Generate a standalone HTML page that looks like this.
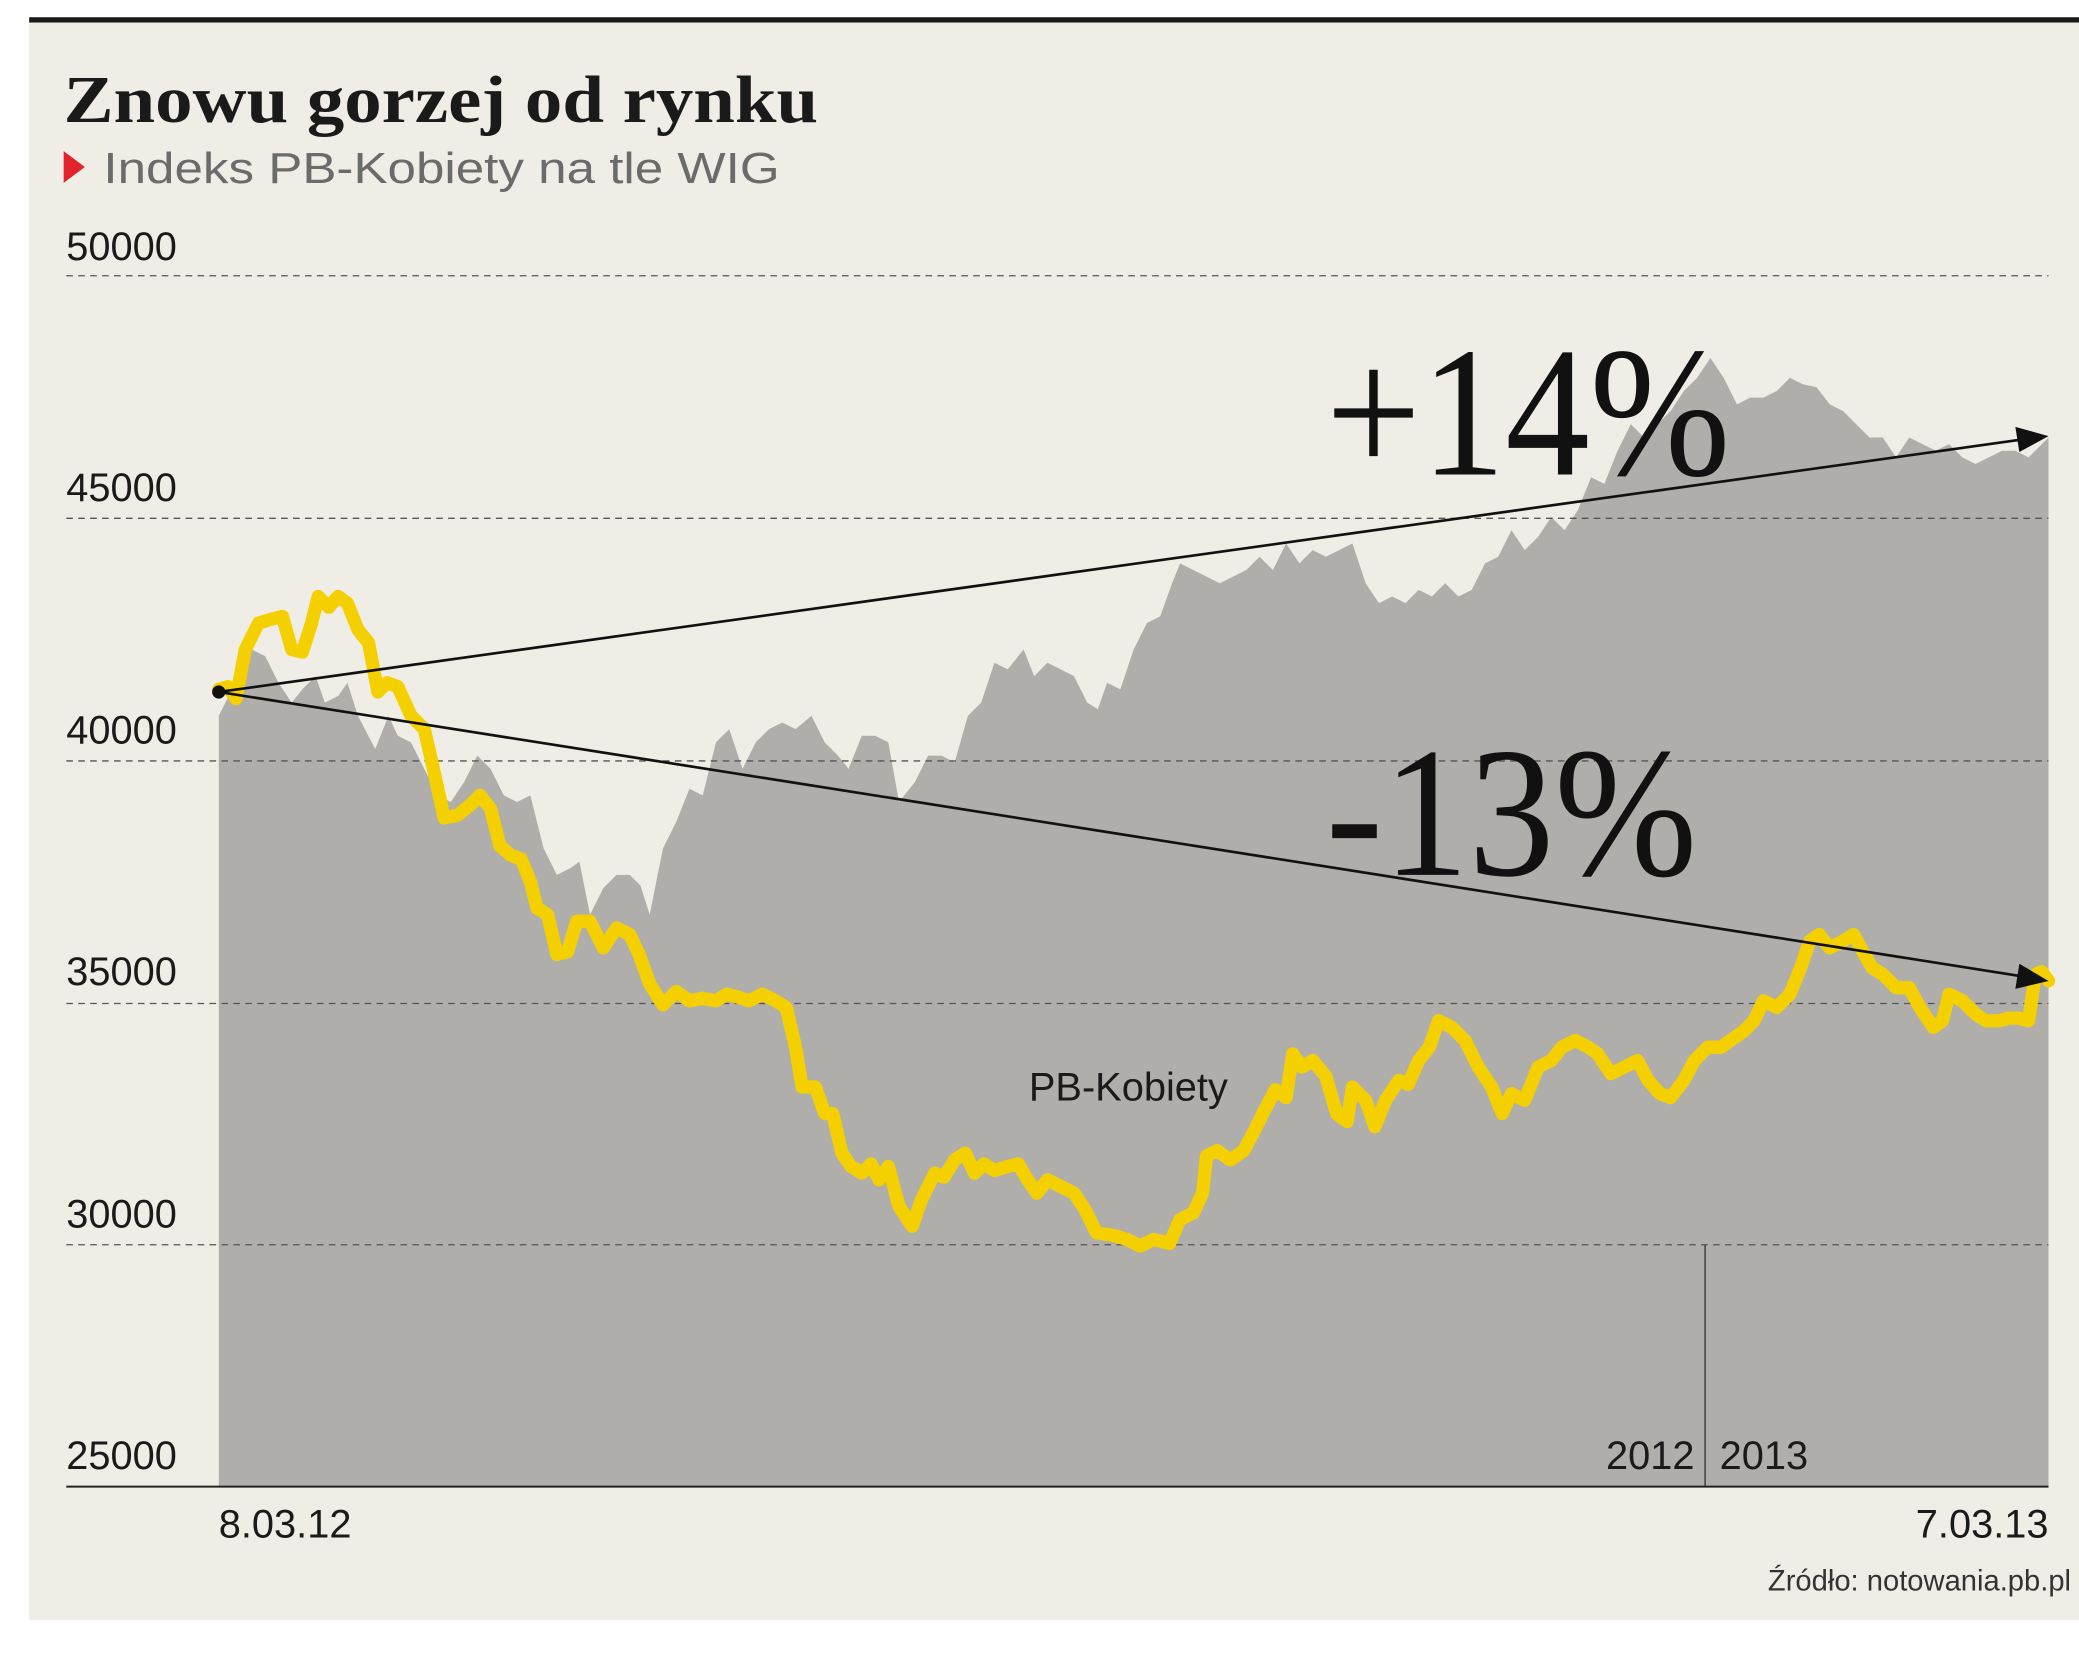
<!DOCTYPE html>
<html><head><meta charset="utf-8"><style>html,body{margin:0;padding:0;background:#fff}svg{display:block}</style></head><body>
<svg width="2079" height="1661" viewBox="0 0 1568 1253" preserveAspectRatio="none" xmlns="http://www.w3.org/2000/svg">
<rect x="22" y="15" width="1546" height="1207" fill="#f0ede6"/>
<rect x="22" y="13" width="1546" height="4" fill="#1a1a1a"/>
<text x="48" y="92" font-family="Liberation Serif, serif" font-weight="bold" font-size="50" fill="#1a1a1a" textLength="569" lengthAdjust="spacingAndGlyphs">Znowu gorzej od rynku</text>
<polygon points="48,114 48,138 64,126" fill="#e3232b"/>
<text x="78" y="138" font-family="Liberation Sans, sans-serif" font-size="33" fill="#6b6b6b" textLength="510" lengthAdjust="spacingAndGlyphs">Indeks PB-Kobiety na tle WIG</text>
<path fill="#b0aeaa" d="M165,1121 L165,540 175,520 190,490 200,495 210,515 220,530 228,520 238,510 245,530 255,525 262,515 270,540 283,565 293,540 300,555 310,560 320,580 330,600 340,605 350,590 360,570 370,580 380,600 390,605 400,600 410,640 420,660 430,655 437,650 445,690 455,670 465,660 475,660 483,668 490,690 500,640 510,620 520,595 530,600 540,560 550,550 560,580 570,560 580,550 590,545 600,550 612,540 622,560 632,570 640,580 650,555 660,555 670,560 678,605 690,590 700,570 710,570 720,575 730,540 740,530 750,500 760,505 772,490 780,510 790,500 800,505 810,510 820,530 828,535 835,515 845,520 855,490 865,470 875,465 884,440 890,425 900,430 910,435 920,440 930,435 940,430 950,420 960,430 970,410 980,425 990,415 1000,420 1010,415 1020,410 1030,440 1040,455 1050,450 1060,455 1070,445 1080,450 1090,440 1100,450 1110,445 1120,425 1130,420 1140,400 1150,415 1160,405 1170,390 1180,400 1190,385 1200,360 1210,365 1220,340 1230,320 1240,330 1250,320 1260,310 1270,295 1280,285 1290,270 1300,285 1310,305 1320,300 1330,300 1340,295 1350,285 1360,290 1370,292 1380,305 1390,310 1400,320 1410,330 1420,330 1430,345 1440,330 1450,335 1460,340 1470,335 1480,345 1490,350 1500,345 1510,340 1520,340 1530,345 1545,330 L1545,1121 Z"/>
<g stroke="#555" stroke-width="1" stroke-dasharray="5,4">
<line x1="50" y1="208" x2="1545" y2="208"/><line x1="50" y1="391" x2="1545" y2="391"/><line x1="50" y1="574" x2="1545" y2="574"/><line x1="50" y1="757" x2="1545" y2="757"/><line x1="50" y1="939" x2="1545" y2="939"/>
</g>
<line x1="1286" y1="939" x2="1286" y2="1121" stroke="#333" stroke-width="1"/>
<line x1="50" y1="1121.5" x2="1545" y2="1121.5" stroke="#222" stroke-width="1.5"/>
<g font-family="Liberation Sans, sans-serif" font-size="30" fill="#1a1a1a">
<text x="50" y="196">50000</text><text x="50" y="378">45000</text><text x="50" y="561">40000</text><text x="50" y="743">35000</text><text x="50" y="926">30000</text><text x="50" y="1108">25000</text>
<text x="1278" y="1108" text-anchor="end">2012</text><text x="1297" y="1108">2013</text>
<text x="165" y="1160">8.03.12</text><text x="1545" y="1160" text-anchor="end">7.03.13</text>
<text x="776" y="830">PB-Kobiety</text>
</g>
<text x="1562" y="1200" text-anchor="end" font-family="Liberation Sans, sans-serif" font-size="22" fill="#333">Źródło: notowania.pb.pl</text>
<polyline fill="none" stroke="#f5d000" stroke-width="10" stroke-linejoin="round" stroke-linecap="round" points="165,520 172,518 178,527 185,490 195,470 205,467 213,465 220,490 228,492 235,470 240,450 248,458 255,450 262,455 270,475 278,485 285,522 292,515 300,518 310,540 320,550 328,585 335,617 345,615 355,607 362,600 370,610 377,638 385,645 393,648 400,665 405,685 413,690 420,720 428,718 435,695 445,695 455,715 465,700 475,705 482,720 490,742 500,758 510,748 520,755 530,753 540,755 548,750 556,752 565,755 575,750 585,755 593,760 600,790 605,820 615,820 622,840 628,840 635,870 642,880 650,885 657,878 663,890 670,880 678,910 688,925 695,905 705,885 712,888 720,875 728,870 735,885 742,878 750,883 760,880 768,878 775,890 782,900 790,890 800,895 810,900 818,912 827,930 840,932 850,935 860,940 870,935 882,938 890,920 900,915 907,900 910,872 918,868 928,875 938,868 945,855 955,835 962,822 970,828 975,795 982,805 990,800 1000,812 1008,840 1016,846 1020,820 1030,830 1037,850 1045,830 1055,815 1062,818 1070,800 1078,790 1085,770 1095,775 1105,785 1115,805 1125,820 1133,840 1140,825 1150,830 1160,805 1170,800 1178,790 1188,785 1198,790 1205,795 1215,810 1225,805 1235,800 1243,815 1252,825 1260,828 1270,815 1278,800 1288,790 1298,790 1305,785 1315,778 1323,770 1330,755 1340,760 1350,750 1358,730 1365,710 1372,705 1380,715 1390,710 1398,705 1405,718 1412,730 1420,735 1430,745 1440,745 1448,760 1458,775 1465,770 1470,750 1480,755 1490,765 1498,770 1508,770 1515,768 1522,768 1530,770 1535,735 1540,733 1545,740"/>
<g stroke="#111" stroke-width="2">
<line x1="165" y1="522" x2="1522" y2="332"/>
<line x1="165" y1="522" x2="1522" y2="736"/>
</g>
<polygon points="1545,329 1520,322 1523,341" fill="#111"/>
<polygon points="1545,740 1523,727 1520,746" fill="#111"/>
<circle cx="165" cy="522" r="5" fill="#111"/>
<g font-family="Liberation Serif, serif" fill="#111">
<text x="1000" y="358" font-size="140" textLength="305" lengthAdjust="spacingAndGlyphs">+14%</text>
<text x="1000" y="660" font-size="140" textLength="280" lengthAdjust="spacingAndGlyphs">-13%</text>
</g>
</svg>
</body></html>
